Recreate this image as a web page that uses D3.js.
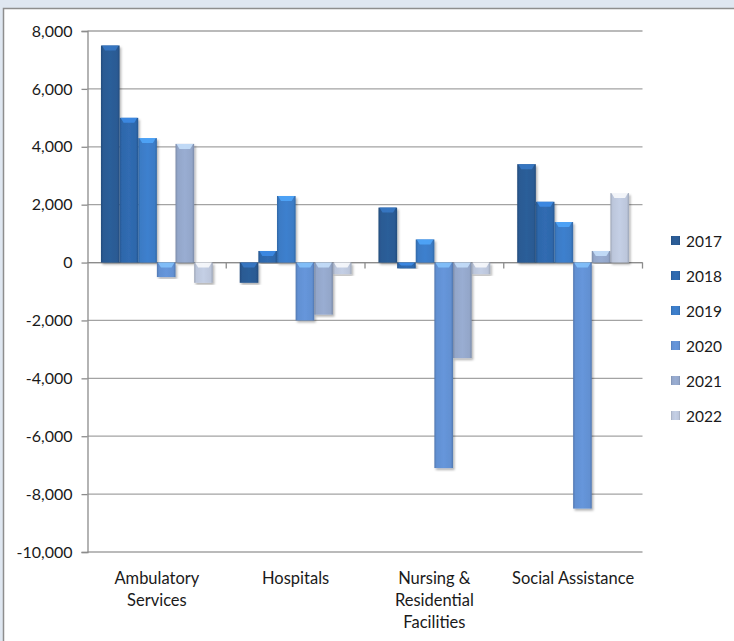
<!DOCTYPE html>
<html>
<head>
<meta charset="utf-8">
<script src="https://cdn.jsdelivr.net/npm/d3@7"></script>
<style>
  html, body { margin: 0; padding: 0; background: #dfe7f1; }
  svg { display: block; }
  text { font-family: Lato, "Open Sans", sans-serif; fill: #1a1a1a; }
</style>
</head>
<body>
<div id="chart"></div>
<script>
const categories = [["Ambulatory", "Services"], ["Hospitals"], ["Nursing &", "Residential", "Facilities"], ["Social Assistance"]];
const years = ["2017", "2018", "2019", "2020", "2021", "2022"];
const v2017 = [7500, -700, 1900, 3400];
const v2018 = [5000, 400, -200, 2100];
const v2019 = [4300, 2300, 800, 1400];
const v2020 = [-500, -2000, -7100, -8500];
const v2021 = [4100, -1800, -3300, 400];
const v2022 = [-700, -400, -400, 2400];
const series = [v2017, v2018, v2019, v2020, v2021, v2022];
const yTicks = [-10000, -8000, -6000, -4000, -2000, 0, 2000, 4000, 6000, 8000];
const colors = ["#2a5a93", "#2e67ab", "#3b7bc5", "#6290d2", "#93a6c9", "#bcc6db"];

const width = 734, height = 641;
const marginLeft = 87.5, marginRight = 91.5, marginTop = 31, marginBottom = 89;

const svg = d3.select("#chart").append("svg")
  .attr("width", width).attr("height", height);

const defs = svg.append("defs");
colors.forEach((c, i) => {
  const g = defs.append("linearGradient").attr("id", "g" + i)
    .attr("x1", "0%").attr("x2", "100%").attr("y1", "0%").attr("y2", "0%");
  const dk = d3.color(c).darker(0.5), lt = d3.color(c).brighter(0.12);
  g.append("stop").attr("offset", "0%").attr("stop-color", dk);
  g.append("stop").attr("offset", "12%").attr("stop-color", c);
  g.append("stop").attr("offset", "50%").attr("stop-color", lt);
  g.append("stop").attr("offset", "88%").attr("stop-color", c);
  g.append("stop").attr("offset", "100%").attr("stop-color", dk);
});
const sh = defs.append("filter").attr("id", "shadow")
  .attr("x", "-20%").attr("y", "-5%").attr("width", "150%").attr("height", "115%");
sh.append("feDropShadow").attr("dx", 1.5).attr("dy", 2).attr("stdDeviation", 1.2)
  .attr("flood-color", "#000").attr("flood-opacity", 0.3);

// panel
svg.append("rect").attr("x", 3.5).attr("y", 8.5).attr("width", width).attr("height", height)
  .attr("fill", "#fff").attr("stroke", "#8e8e8e").attr("stroke-width", 1.5);

const x0 = d3.scaleBand().domain(d3.range(categories.length))
  .range([marginLeft, width - marginRight]);
const inset = x0.bandwidth() * 0.097;
const x1 = d3.scaleBand().domain(d3.range(years.length))
  .range([inset, x0.bandwidth() - inset]);
const y = d3.scaleLinear().domain([-10000, 8000]).range([height - marginBottom, marginTop]);

// gridlines
svg.append("g").selectAll("line").data(yTicks).join("line")
  .attr("x1", marginLeft).attr("x2", width - marginRight)
  .attr("y1", d => y(d)).attr("y2", d => y(d))
  .attr("stroke", "#a3a3a3").attr("stroke-width", 1.3);

// y axis
const fmt = d => d3.format(",")(d).replace("−", "-");
const yAxis = svg.append("g").attr("transform", `translate(${marginLeft},0)`)
  .call(d3.axisLeft(y).tickValues(yTicks).tickSize(6).tickPadding(9).tickFormat(fmt));
yAxis.select(".domain").attr("stroke", "#8c8c8c").attr("stroke-width", 1.3);
yAxis.selectAll(".tick line").attr("stroke", "#8c8c8c").attr("stroke-width", 1.3);
yAxis.selectAll(".tick text").attr("font-size", 16).attr("fill", "#1a1a1a")
  .style("font-family", "Lato, sans-serif");

// category axis at zero
const xAxis = svg.append("g").attr("transform", `translate(0,${y(0)})`);
xAxis.append("line").attr("x1", marginLeft).attr("x2", width - marginRight)
  .attr("stroke", "#8c8c8c").attr("stroke-width", 1.3);
xAxis.selectAll("line.tk").data(d3.range(1, categories.length + 1)).join("line")
  .attr("class", "tk")
  .attr("x1", d => x0(d - 1) + x0.bandwidth()).attr("x2", d => x0(d - 1) + x0.bandwidth())
  .attr("y1", 0).attr("y2", 6).attr("stroke", "#8c8c8c").attr("stroke-width", 1.3);

// bars
const groups = svg.append("g").selectAll("g").data(categories).join("g")
  .attr("transform", (d, i) => `translate(${x0(i)},0)`);
groups.each(function (cat, ci) {
  const g = d3.select(this);
  series.forEach((vals, si) => {
    const v = vals[ci];
    const bx = x1(si), bw = x1.bandwidth();
    const top = y(Math.max(0, v)), bot = y(Math.min(0, v));
    g.append("rect").attr("x", bx).attr("y", top).attr("width", bw).attr("height", bot - top)
      .attr("fill", `url(#g${si})`).attr("filter", "url(#shadow)");
    const bev = Math.min(5, (bot - top) / 2);
    g.append("path")
      .attr("d", `M${bx + 1},${top}L${bx + bw - 1},${top}L${bx + bw - 4},${top + bev}L${bx + 4},${top + bev}Z`)
      .attr("fill", d3.color(colors[si]).brighter(0.9)).attr("opacity", 0.8);
  });
});

// category labels
svg.append("g").selectAll("text").data(categories).join("text")
  .attr("x", (d, i) => x0(i) + x0.bandwidth() / 2)
  .attr("y", 584)
  .attr("text-anchor", "middle").attr("font-size", 16.5)
  .each(function (lines) {
    d3.select(this).selectAll("tspan").data(lines).join("tspan")
      .attr("x", d3.select(this).attr("x"))
      .attr("dy", (d, i) => i === 0 ? 0 : 22)
      .text(d => d);
  });

// legend
const legend = svg.append("g").selectAll("g").data(years).join("g")
  .attr("transform", (d, i) => `translate(671,${241 + i * 35})`);
legend.append("rect").attr("x", 0).attr("y", -5).attr("width", 9).attr("height", 9)
  .attr("fill", (d, i) => `url(#g${i})`);
legend.append("text").attr("x", 15).attr("y", 5.5).attr("font-size", 15.5).text(d => d);
</script>
</body>
</html>
